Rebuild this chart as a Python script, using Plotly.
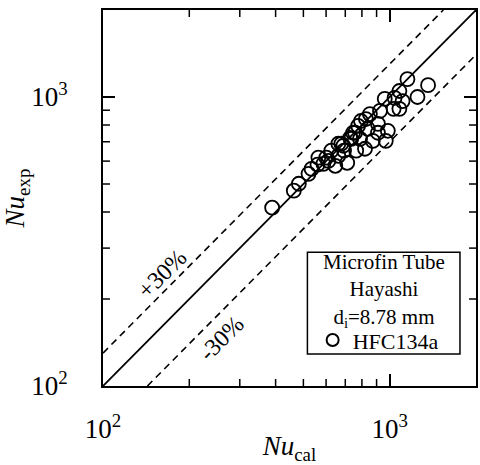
import plotly.graph_objects as go
import numpy as np

nu_cal = [389, 463, 482, 521, 560, 601, 626, 646, 662, 689, 711, 728, 757, 788, 764,
          820, 794, 826, 839, 910, 925, 969, 985, 961, 1040, 1081, 1081, 1153, 1250, 1361,
          910, 745, 734, 678, 564, 587, 611, 662, 853, 1032, 776, 873, 693, 534, 1109]
nu_exp = [414, 474, 501, 542, 583, 617, 652, 578, 689, 678, 592, 722, 752, 716, 652,
          662, 826, 839, 776, 807, 895, 705, 764, 985, 993, 1049, 910, 1153, 1000, 1099,
          752, 752, 716, 689, 617, 587, 601, 626, 873, 910, 794, 705, 652, 564, 968]

axis_min = 100
axis_max = 2000
major_ticks = [100, 1000]
major_labels = ["10<sup>2</sup>", "10<sup>3</sup>"]
minor_ticks = [200, 300, 400, 500, 600, 700, 800, 900]
band = 0.3
legend_header = "Microfin Tube<br>Hayashi<br>d<sub>i</sub>=8.78 mm"

FONT = "Liberation Serif"
MINOR_LEN = 7 / 376.0

fig = go.Figure()

xs = np.array([axis_min, axis_max], dtype=float)
fig.add_trace(go.Scatter(x=xs, y=xs, mode="lines", line=dict(color="black", width=1.8),
                         showlegend=False, hoverinfo="skip"))
xu = np.array([axis_min, axis_max / (1 + band)])
fig.add_trace(go.Scatter(x=xu, y=xu * (1 + band), mode="lines",
                         line=dict(color="black", width=1.6, dash="7px,5px"),
                         showlegend=False, hoverinfo="skip"))
xl = np.array([axis_min / (1 - band), axis_max])
fig.add_trace(go.Scatter(x=xl, y=xl * (1 - band), mode="lines",
                         line=dict(color="black", width=1.6, dash="7px,5px"),
                         showlegend=False, hoverinfo="skip"))

fig.add_trace(go.Scatter(x=nu_cal, y=nu_exp, mode="markers", name="HFC134a",
                         marker=dict(symbol="circle-open", size=14,
                                     line=dict(color="black", width=1.8), color="black")))

rng = [np.log10(axis_min), np.log10(axis_max)]
axis_common = dict(
    type="log", range=rng,
    tickmode="array", tickvals=major_ticks, ticktext=major_labels,
    ticks="inside", ticklen=12, tickwidth=1.5, tickcolor="black",
    showline=True, linecolor="black", linewidth=2, mirror="allticks",
    showgrid=False, zeroline=False,
    tickfont=dict(family=FONT, size=27, color="black"),
)

# minor tick marks (inside, on all four sides), built from the minor tick list
tick_line = dict(color="black", width=1.5)
shapes = [
    dict(type="rect", xref="paper", yref="paper", x0=0.548, x1=0.957, y0=0.085, y1=0.356,
         line=dict(color="black", width=1.5), fillcolor="white", layer="below"),
]
for v in minor_ticks:
    shapes.append(dict(type="line", xref="x", yref="y domain", x0=v, x1=v, y0=0, y1=MINOR_LEN, line=tick_line))
    shapes.append(dict(type="line", xref="x", yref="y domain", x0=v, x1=v, y0=1 - MINOR_LEN, y1=1, line=tick_line))
    shapes.append(dict(type="line", xref="x domain", yref="y", x0=0, x1=MINOR_LEN, y0=v, y1=v, line=tick_line))
    shapes.append(dict(type="line", xref="x domain", yref="y", x0=1 - MINOR_LEN, x1=1, y0=v, y1=v, line=tick_line))

fig.update_layout(
    width=480, height=465,
    margin=dict(l=102, r=2, t=10, b=79),
    paper_bgcolor="white", plot_bgcolor="white",
    xaxis=dict(**axis_common, ticklabelstandoff=18,
               title=dict(text="<i>Nu</i><sub>cal</sub>", font=dict(family=FONT, size=27, color="black"),
                          standoff=0)),
    yaxis=dict(**axis_common, ticklabelstandoff=28,
               title=dict(text="<i>Nu</i><sub>exp</sub>", font=dict(family=FONT, size=27, color="black"),
                          standoff=10)),
    showlegend=True,
    legend=dict(
        x=0.562, y=0.122, xanchor="left", yanchor="middle",
        borderwidth=0, bgcolor="rgba(0,0,0,0)",
        font=dict(family=FONT, size=22, color="black"),
        itemsizing="constant", itemwidth=30,
    ),
    shapes=shapes,
    annotations=[
        dict(x=0.753, y=0.253, xref="paper", yref="paper", xanchor="center", yanchor="middle",
             text=legend_header, align="center",
             showarrow=False, font=dict(family=FONT, size=21, color="black")),
        dict(x=np.log10(160), y=np.log10(245), xref="x", yref="y", text="+30%",
             showarrow=False, textangle=-45, font=dict(family=FONT, size=24, color="black")),
        dict(x=np.log10(259), y=np.log10(147), xref="x", yref="y", text="-30%",
             showarrow=False, textangle=-45, font=dict(family=FONT, size=24, color="black")),
    ],
)

fig.write_html("out.html")
